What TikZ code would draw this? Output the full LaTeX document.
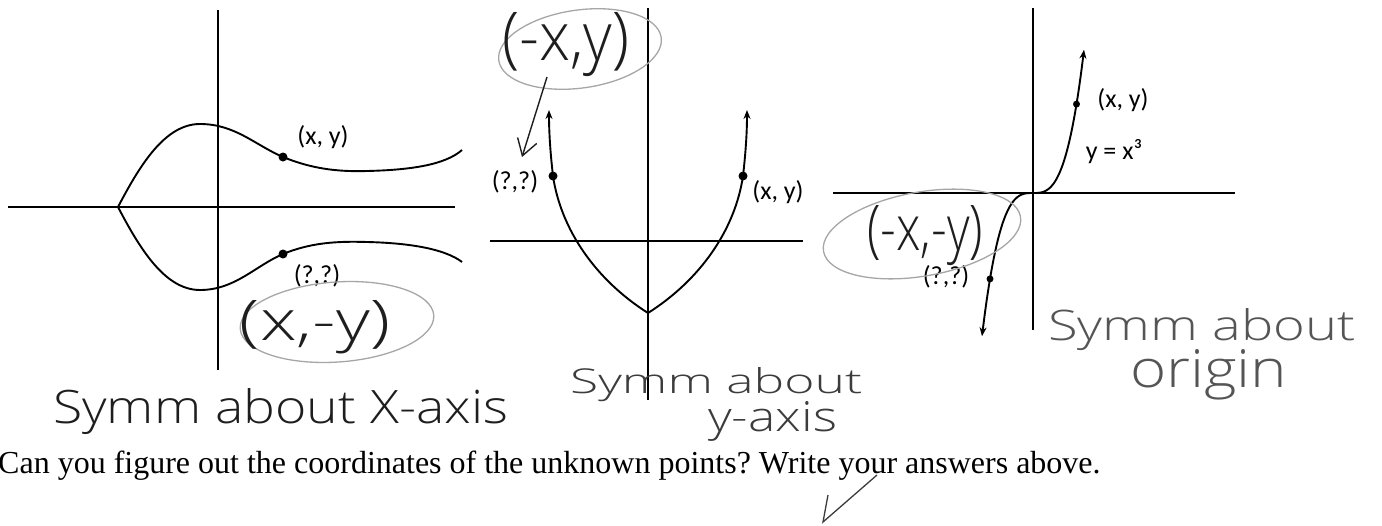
\documentclass[tikz,border=0pt]{standalone}
\usepackage{fontspec}
\usepackage{graphicx}
\usetikzlibrary{arrows.meta}
\newfontfamily\handfont{Open Sans}[UprightFont={* Light}]
\newfontfamily\printfont{Liberation Serif}
\newfontfamily\labelfont{Carlito}
\definecolor{pencil}{HTML}{1E1E1E}
\definecolor{midpencil}{HTML}{3C3C3C}
\definecolor{lightpencil}{HTML}{555555}
\definecolor{faint}{HTML}{A6A6A6}
\newcommand{\scrawl}[3]{\resizebox{#1}{#2}{\handfont #3}}
\frenchspacing

\begin{document}
\begin{tikzpicture}[x=1pt, y=-1pt, >={Stealth[length=9pt,width=7pt]},
  axis/.style={line width=1.4pt},
  curve/.style={line width=1.9pt},
  dot/.style={fill=black},
  lbl/.style={font=\labelfont\fontsize{26}{28}\selectfont, inner sep=0pt},
  hand/.style={text=pencil, inner sep=0pt},
  oval/.style={draw=faint, line width=1.3pt}]

  \useasboundingbox[fill=white] (0,0) rectangle (1382,525);

  % ---- graph 1: symmetric about the x-axis ----
  \draw[axis] (8,207) -- (455,207);
  \draw[axis] (218,10) -- (218,370);
  \draw[curve] (118,207) .. controls (140,165) and (165,124) .. (200,124)
    .. controls (235,124) and (255,145) .. (283,157)
    .. controls (310,168) and (335,172) .. (367,171)
    .. controls (410,170) and (445,165) .. (462,150);
  \draw[curve] (118,207) .. controls (140,249) and (165,290) .. (200,290)
    .. controls (235,290) and (255,266) .. (283,254)
    .. controls (310,243) and (335,241) .. (367,242)
    .. controls (410,243) and (445,249) .. (462,262);
  \fill[dot] (283,157) circle[radius=4.5pt];
  \fill[dot] (283,254) circle[radius=4.5pt];
  \node[lbl] (xy1) at (323,137) {(x, y)};
  \node[lbl] (q1) at (317,276) {(?,?)};

  \draw[oval, rotate around={4:(337,322)}] (337,322) ellipse[x radius=97pt, y radius=40pt];
  \node[hand] (ans1) at (315,327) {\scrawl{150pt}{40pt}{(x,-y)}};
  \node[hand, anchor=base west] (note1) at (53,423) {\scrawl{455pt}{35pt}{Symm about X-axis}};

  % ---- graph 2: symmetric about the y-axis ----
  \draw[axis] (490,241) -- (803,241);
  \draw[axis] (648,8) -- (648,400);
  \draw[curve, <->] (549,110) .. controls (549,130) and (550,150) .. (553,176)
    .. controls (561,230) and (596,280) .. (648,313)
    .. controls (700,280) and (735,230) .. (743,176)
    .. controls (746,150) and (747,130) .. (747,110);
  \fill[dot] (553,176) circle[radius=4.5pt];
  \fill[dot] (743,176) circle[radius=4.5pt];
  \node[lbl] (xy2) at (778,192) {(x, y)};
  \node[lbl] (q2) at (515,182) {(?,?)};

  \draw[oval, rotate around={8:(580,49)}] (580,49) ellipse[x radius=82pt, y radius=39pt];
  \node[hand] (ans2) at (566,45) {\scrawl{127pt}{48pt}{(-x,y)}};
  \coordinate (hint) at (547,77);
  \coordinate (hinttip) at (522,157);
  \draw[pencil, line width=1.4pt, -{Straight Barb[length=16pt,width=20pt]}] (hint) -- (hinttip);
  \node[hand, text=midpencil, anchor=base west] (note2) at (570,393) {\scrawl{292pt}{26pt}{Symm about}};
  \node[hand, text=midpencil, anchor=base west] (note2b) at (708,431) {\scrawl{129pt}{30pt}{y-axis}};

  % ---- graph 3: symmetric about the origin ----
  \draw[axis] (833,193) -- (1235,193);
  \draw[axis] (1033,8) -- (1033,330);
  \draw[curve, <->] plot[domain=-5.1:5.1, samples=61, smooth]
    ({1033+10*\x},{193-1.08*\x*\x*\x});
  \fill[dot] (1076.5,104.1) circle[radius=3.5pt];
  \fill[dot] (990,278.9) circle[radius=3.5pt];
  \node[lbl] (xy3) at (1123,100) {(x, y)};
  \node[lbl] (cubic) at (1114,152) {y = x³};
  \node[lbl] (q3) at (946,277) {(?,?)};

  \draw[oval, rotate around={10:(922,234)}] (922,234) ellipse[x radius=100pt, y radius=42pt];
  \node[hand] (ans3) at (925,236) {\scrawl{116pt}{45pt}{(-x,-y)}};
  \node[hand, text=lightpencil, anchor=base west] (note3) at (1048,340) {\scrawl{307pt}{32pt}{Symm about}};
  \node[hand, text=lightpencil, anchor=base west] (note3b) at (1130,387) {\scrawl{157pt}{38pt}{origin}};

  % ---- printed question and tick ----
  \node[anchor=base west, inner sep=0pt, font=\printfont\fontsize{32}{34}\selectfont] (question) at (-2,473)
    {Can you figure out the coordinates of the unknown points? Write your answers above.};
  \coordinate (tick) at (877,475);
  \coordinate (tickend) at (828,495);
  \draw[midpencil, line width=1.3pt] (tick) -- (823,522) -- (tickend);

\end{tikzpicture}
\end{document}
